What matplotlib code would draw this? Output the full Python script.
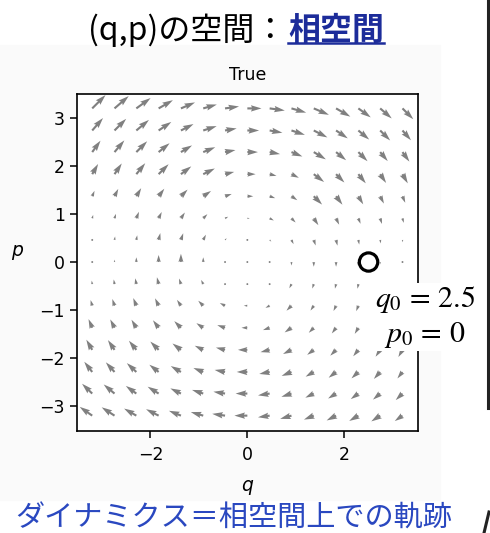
import numpy as np
import matplotlib.pyplot as plt
from matplotlib.patches import Circle, Rectangle
from matplotlib.lines import Line2D

# grid of phase-space points (q across, p from top row to bottom row)
q_grid = [-3.2, -2.74, -2.29, -1.83, -1.37, -0.91, -0.46, 0.0,
          0.46, 0.91, 1.37, 1.83, 2.29, 2.74, 3.2]
p_grid = [3.2, 2.74, 2.29, 1.83, 1.37, 0.91, 0.46, 0.0,
          -0.46, -0.91, -1.37, -1.83, -2.29, -2.74, -3.2]

# flow direction at each point, degrees from +q axis (rows follow p_grid)
flow_angle = [
    [45, 41, 36, 30, 23, 16, 8, 0, -8, -16, -23, -30, -36, -41, -45],
    [49, 45, 40, 34, 27, 18, 10, 0, -10, -18, -27, -34, -40, -45, -49],
    [54, 50, 45, 39, 31, 22, 11, 0, -11, -22, -31, -39, -45, -50, -54],
    [60, 56, 51, 45, 37, 26, 14, 0, -14, -26, -37, -45, -51, -56, -60],
    [67, 63, 59, 53, 45, 34, 19, 0, -19, -34, -45, -53, -59, -63, -67],
    [74, 72, 68, 64, 56, 45, 27, 0, -27, -45, -56, -64, -68, -72, -74],
    [82, 80, 79, 76, 71, 63, 45, 0, -45, -63, -71, -76, -79, -80, -82],
    [90, 90, 90, 90, 90, 90, 90, 0, -90, -90, -90, -90, -90, -90, -90],
    [98, 100, 101, 104, 109, 117, 135, 180, -135, -117, -109, -104, -101, -100, -98],
    [106, 108, 112, 116, 124, 135, 153, 180, -153, -135, -124, -116, -112, -108, -106],
    [113, 117, 121, 127, 135, 146, 161, 180, -161, -146, -135, -127, -121, -117, -113],
    [120, 124, 129, 135, 143, 154, 166, 180, -166, -154, -143, -135, -129, -124, -120],
    [128, 132, 137, 142, 150, 158, 169, 180, -169, -158, -150, -142, -137, -132, -128],
    [136, 140, 144, 148, 154, 162, 171, 180, -171, -162, -154, -148, -144, -140, -136],
    [145, 147, 150, 153, 158, 164, 172, 180, -172, -164, -158, -153, -150, -147, -145],
]

# flow speed at each point (same layout)
flow_speed = [
    [16, 16, 15, 14, 13, 12, 12, 12, 13, 13, 14, 14, 13, 13, 13],
    [14, 14, 14, 13, 12, 12, 10, 10, 11, 12, 13, 12, 12, 12, 11],
    [12, 13, 13, 12, 11, 11, 9, 9, 9, 10, 12, 11, 11, 10, 10],
    [10, 11, 12, 12, 11, 11, 8, 7, 6, 7, 11, 10, 10, 9, 9],
    [5, 7, 8, 8, 8, 8, 6, 5, 5, 6, 10, 9, 8, 7, 6],
    [3, 4, 6, 6, 6, 5, 3, 2, 4, 5, 7, 6, 5, 5, 4],
    [1, 3, 4, 6, 6, 5, 2, 1, 2, 4, 5, 5, 4, 3, 2],
    [1, 2, 4, 6, 7, 4, 1, 1, 1, 3, 4, 4, 4, 2, 1],
    [3, 4, 5, 6, 5, 4, 1, 1, 1, 4, 4, 4, 4, 3, 2],
    [5, 6, 7, 7, 6, 6, 5, 3, 4, 6, 5, 5, 5, 4, 4],
    [8, 8, 8, 8, 8, 7, 7, 5, 6, 7, 6, 6, 6, 6, 6],
    [10, 10, 10, 10, 9, 8, 8, 8, 8, 8, 7, 7, 7, 7, 7],
    [11, 11, 11, 10, 10, 9, 9, 9, 9, 9, 8, 8, 8, 8, 7],
    [12, 12, 11, 11, 10, 10, 10, 10, 10, 9, 8, 8, 8, 8, 8],
    [13, 13, 12, 12, 11, 11, 11, 11, 10, 10, 9, 9, 9, 9, 8],
]

q0, p0 = 2.5, 0.0
ticks_q = [-2, 0, 2]
ticks_p = [-3, -2, -1, 0, 1, 2, 3]

title_black = '(q,p)の空間：'
title_blue = '相空間'
caption = 'ダイナミクス＝相空間上での軌跡'
cjk = ['Noto Sans CJK JP', 'DejaVu Sans']

Q, P = np.meshgrid(q_grid, p_grid)
ang = np.radians(np.array(flow_angle, dtype=float))
spd = np.array(flow_speed, dtype=float)
U = spd * np.cos(ang)
V = spd * np.sin(ang)

fig = plt.figure(figsize=(4.9, 5.33), dpi=100)
W, H = 490.0, 533.0

# light panel behind the plot
fig.patches.append(Rectangle((0, 1 - 500 / H), 440 / W, 455 / H,
                             transform=fig.transFigure, color='#fafafa', zorder=-5))

ax = fig.add_axes([76.7 / W, 1 - 431 / H, 341.3 / W, 337 / H])
ax.set_zorder(2)
ax.set_facecolor('white')
ax.quiver(Q, P, U, V, color=(.5, .5, .5), angles='uv',
          scale_units='dots', scale=0.85, width=0.0062)
ax.set_xlim(-3.52, 3.52)
ax.set_ylim(-3.52, 3.5)
ax.set_xticks(ticks_q)
ax.set_yticks(ticks_p)
ax.tick_params(labelsize=12.5, length=5, width=1.1)
ax.tick_params(axis='x', pad=6)
for s in ax.spines.values():
    s.set_linewidth(1.2)
ax.set_title('True', fontsize=12.5, pad=10)
ax.set_xlabel('$q$', fontsize=13.5, labelpad=10)
ax.set_ylabel('$p$', fontsize=13.5, rotation=0, labelpad=16)

# initial state marker
ax.add_patch(Circle((q0, p0), 0.19, facecolor='white', edgecolor='black',
                    linewidth=2.3, zorder=5))
fig.text(425 / W, 1 - 317 / H, '$q_0\\,=\\,2.5$\n$p_0\\,=\\,0$', ha='center', va='center',
         fontsize=21.5, math_fontfamily='stix', linespacing=1.15,
         bbox=dict(facecolor='white', edgecolor='none', pad=1), zorder=10)

# heading
fig.text(286 / W, 1 - 40 / H, title_black, ha='right', va='baseline',
         fontsize=23, family=cjk, color='black')
tb = fig.text(288 / W, 1 - 40 / H, title_blue, ha='left', va='baseline',
              fontsize=23, family=cjk, color='#1c2c9a', fontweight='bold')
fig.canvas.draw()
bb = tb.get_window_extent()
fig.add_artist(Line2D([bb.x0 / W, bb.x1 / W], [1 - 43 / H, 1 - 43 / H],
                      transform=fig.transFigure, color='#1c2c9a', linewidth=1.8))

fig.text(15 / W, 1 - 519 / H, caption, ha='left', va='center',
         fontsize=21, family=cjk, color='#2a48c0')

# slide frame edges on the right
fig.add_artist(Line2D([487.5 / W, 487.5 / W], [1.0, 1 - 408 / H],
                      transform=fig.transFigure, color='#222222', linewidth=2.2))
fig.add_artist(Line2D([484 / W, 489 / W], [0.0, 1 - 512 / H],
                      transform=fig.transFigure, color='#222222', linewidth=2.2))

fig.savefig('out.png', dpi=100)
